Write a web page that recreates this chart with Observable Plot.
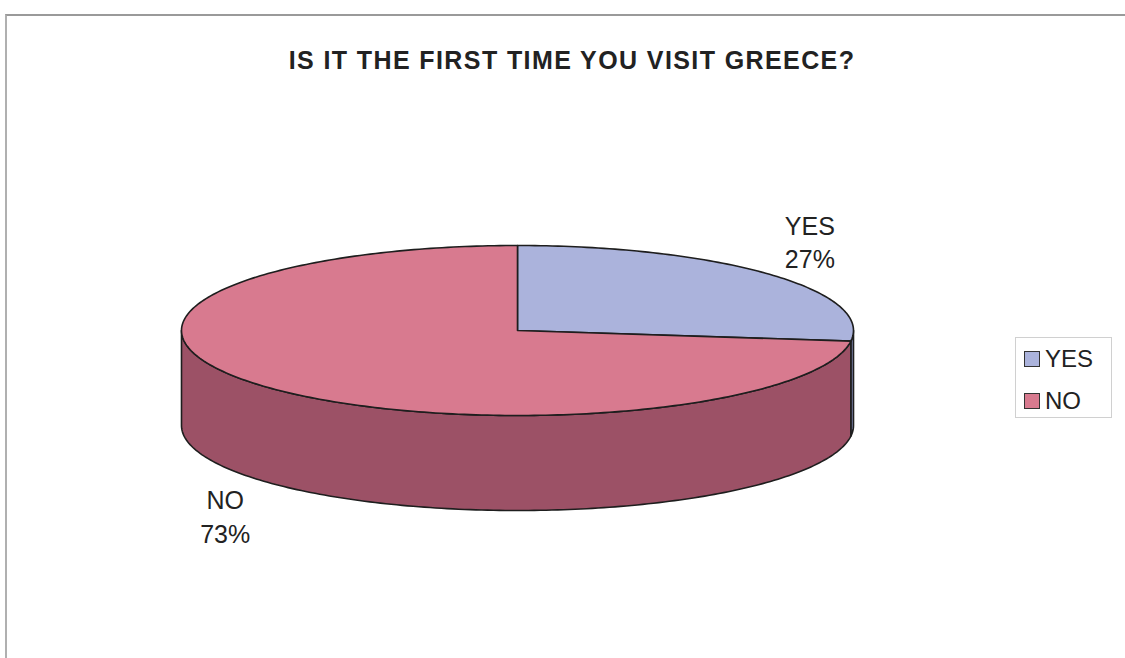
<!DOCTYPE html>
<html><head><meta charset="utf-8">
<script src="https://cdn.jsdelivr.net/npm/d3@7"></script>
<script src="https://cdn.jsdelivr.net/npm/@observablehq/plot@0.6"></script>
<style>
body{margin:0;background:#fff;font-family:"Liberation Sans",Arial,sans-serif;}
#wrap{position:relative;width:1125px;height:658px;overflow:hidden;background:#fff;}
#frame{position:absolute;left:5px;top:14px;right:-5px;bottom:-5px;border-top:2px solid #9a9a9a;border-left:2px solid #b0b0b0;}
#chart{position:absolute;left:0;top:0;}
#legend{position:absolute;left:1015px;top:337px;width:97px;height:81px;border:1px solid #d0d0d0;box-sizing:border-box;}
.item{position:absolute;left:8px;display:flex;align-items:center;font-size:24px;line-height:24px;color:#222;}
.sw{width:14px;height:14px;border:1.5px solid #333;margin-right:5px;box-sizing:content-box;}
</style></head>
<body><div id="wrap"><div id="frame"></div><div id="chart"></div><div id="legend"></div></div>
<script>
const title = "IS IT THE FIRST TIME YOU VISIT GREECE?";
const categories = ["YES", "NO"];
const percents = [27, 73];
const topColors = ["#abb3dc", "#d87a8f"];
const sideColors = ["#7f87b2", "#9c5166"];

// geometry of the tilted pie (units: horizontal radius = 1)
const RY = 85 / 336, DEPTH = 95 / 336;
const total = d3.sum(percents);
let acc = 0;
const slices = categories.map((c, i) => {
  const a0 = acc / total * 2 * Math.PI; acc += percents[i];
  const a1 = acc / total * 2 * Math.PI;
  return {c, i, p: percents[i], a0, a1};
});
const pt = (a, drop = 0) => ({x: Math.sin(a), y: RY * Math.cos(a) - drop});
function arcPts(a0, a1, drop) {
  const n = Math.max(2, Math.ceil((a1 - a0) / (Math.PI / 180)));
  return d3.range(n + 1).map(k => pt(a0 + (a1 - a0) * k / n, drop));
}
const marks = [];
// sides (front half only)
slices.forEach(s => {
  const s0 = Math.max(s.a0, Math.PI / 2), s1 = Math.min(s.a1, 3 * Math.PI / 2);
  if (s1 > s0) {
    const upper = arcPts(s0, s1, 0), lower = arcPts(s0, s1, DEPTH).reverse();
    const poly = [...upper, ...lower, upper[0]];
    marks.push(Plot.line(poly, {x: "x", y: "y", fill: sideColors[s.i], stroke: "#1e1e1e", strokeWidth: 1.6, strokeLinejoin: "round", curve: "linear"}));
  }
});
// tops
slices.forEach(s => {
  const c = {x: 0, y: 0};
  const poly = [c, ...arcPts(s.a0, s.a1, 0), c];
  marks.push(Plot.line(poly, {x: "x", y: "y", fill: topColors[s.i], stroke: "#1e1e1e", strokeWidth: 1.6, strokeLinejoin: "round", curve: "linear"}));
});
// labels
const labels = slices.map(s => {
  const m = (s.a0 + s.a1) / 2;
  const p = pt(m, Math.cos(m) < 0 ? DEPTH : 0);
  return {x: p.x + 0.12 * Math.sign(Math.sin(m)), y: p.y + 0.10 * Math.sign(Math.cos(m)), t: s.c + "\n" + s.p + "%"};
});
marks.push(Plot.text(labels, {x: "x", y: "y", text: "t", fontSize: 25, lineHeight: 1.35, fill: "#222", textAnchor: "middle", lineAnchor: "middle"}));
marks.push(Plot.text([title], {frameAnchor: "top", dy: 51, dx: 9, text: d => d, fontSize: 25, fontWeight: "bold", fill: "#222", lineAnchor: "top"}));

const W = 1125, H = 658, CX = 517, CY = 330, S = 336;
const svg = Plot.plot({
  width: W, height: H,
  marginTop: 0, marginRight: 0, marginBottom: 0, marginLeft: 0,
  x: {domain: [-CX / S, (W - CX) / S], axis: null},
  y: {domain: [(CY - H) / S, CY / S], axis: null},
  style: {background: "none", fontFamily: "'Liberation Sans', Arial, sans-serif", overflow: "visible"},
  marks
});
d3.select(svg).selectAll("text").filter(function () { return this.textContent === title; })
  .attr("letter-spacing", "1.4px").style("letter-spacing", "1.4px");
document.getElementById("chart").appendChild(svg);

// legend
const lg = document.getElementById("legend");
categories.forEach((c, i) => {
  const d = document.createElement("div");
  d.className = "item";
  d.style.top = (9 + i * 42) + "px";
  const sw = document.createElement("span");
  sw.className = "sw"; sw.style.background = topColors[i];
  d.appendChild(sw);
  d.appendChild(document.createTextNode(c));
  lg.appendChild(d);
});
</script></body></html>
